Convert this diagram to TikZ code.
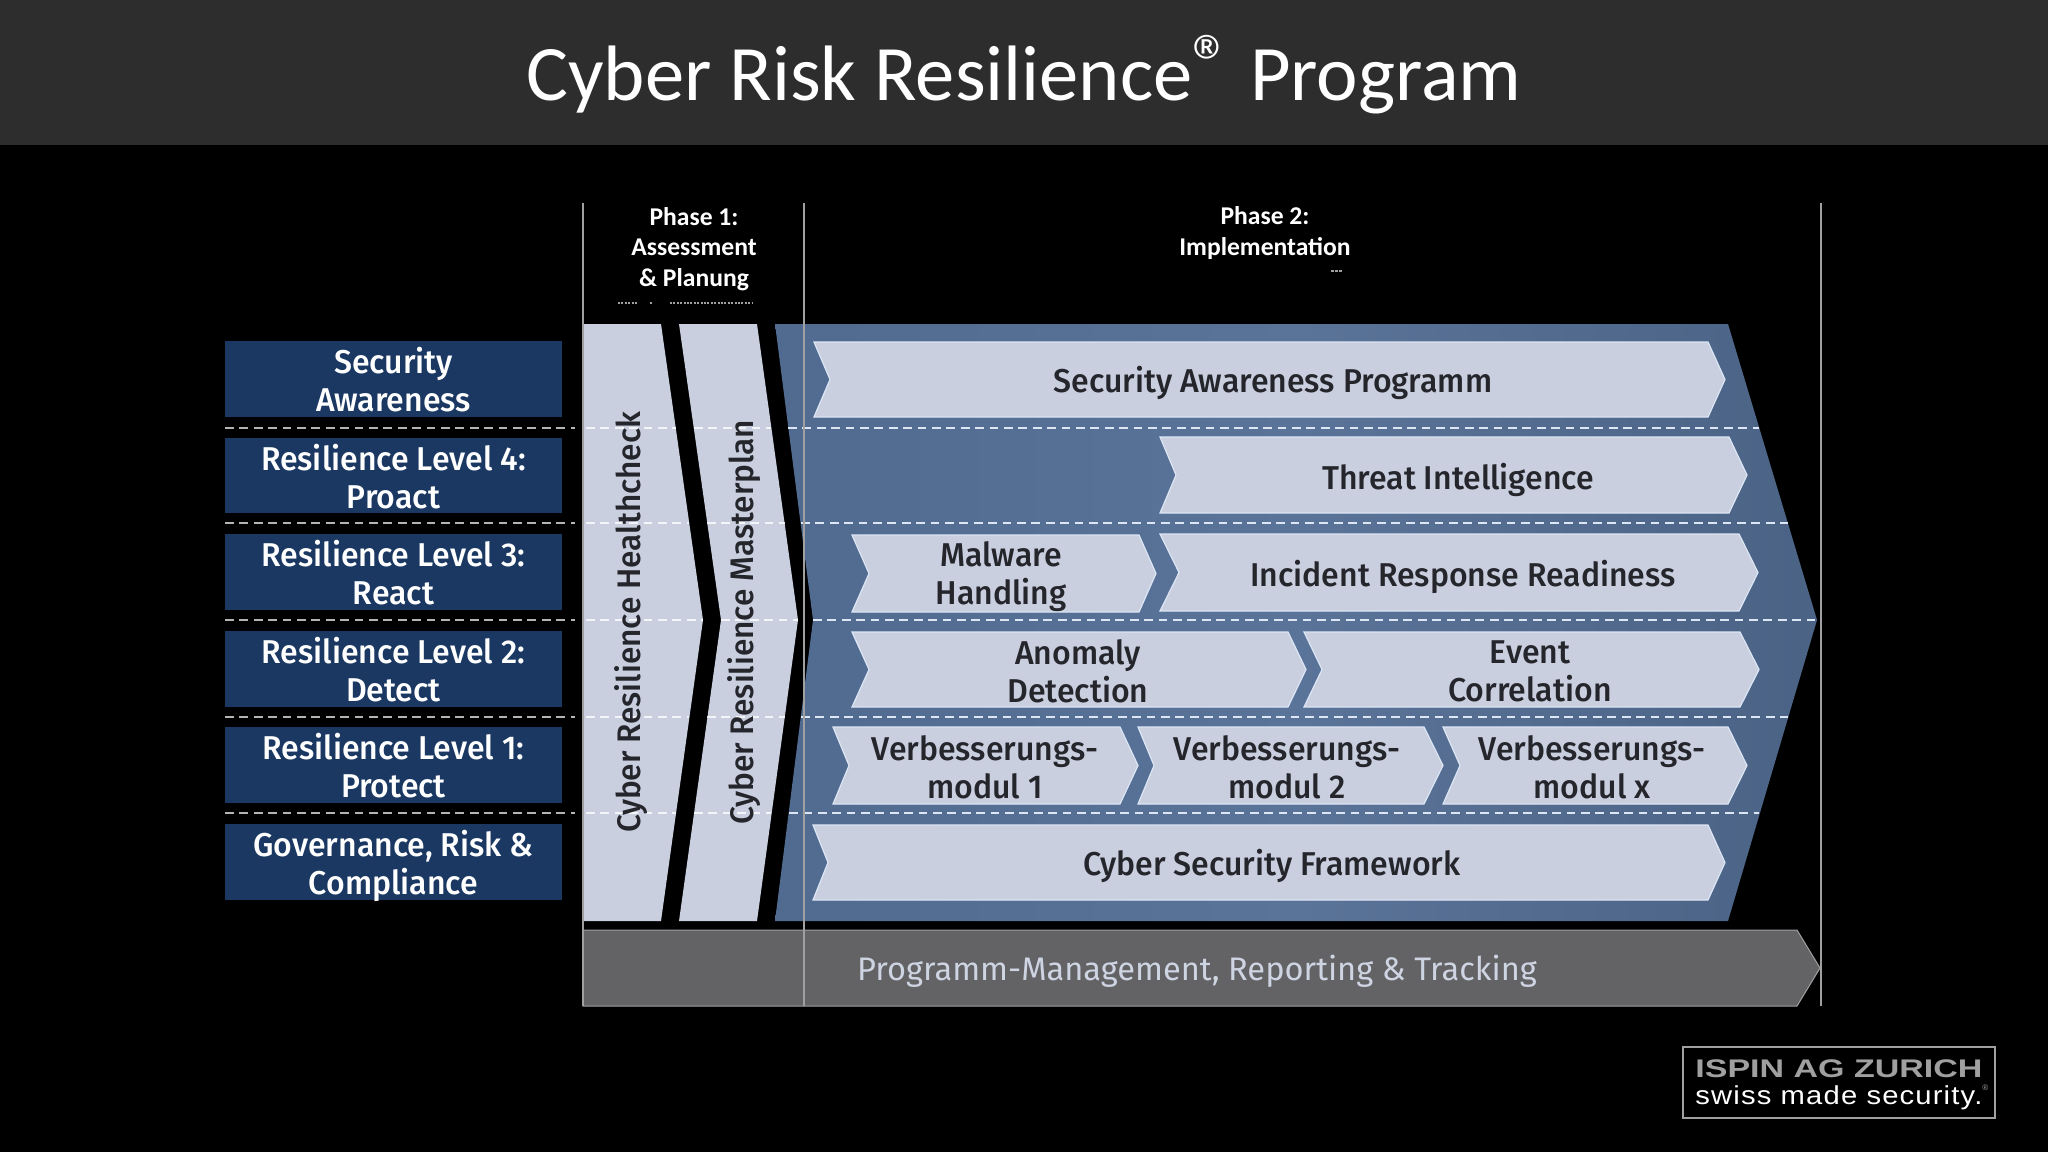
\documentclass[tikz,border=0pt]{standalone}
\usepackage{fontspec}
\usepackage{graphicx}
\setmainfont[FakeStretch=0.97]{Fira Sans Medium}
\newfontfamily\plainfont{Fira Sans}
\newfontfamily\headfont{Carlito}
\newfontfamily\logofont{Liberation Sans}
\newfontfamily\logospaced[LetterSpace=4]{Liberation Sans}
\definecolor{topbar}{HTML}{2D2D2D}
\definecolor{navy}{HTML}{1A3862}
\definecolor{steel}{HTML}{516B90}
\definecolor{steellight}{HTML}{5A7398}
\definecolor{pale}{HTML}{C9CFDF}
\definecolor{paleedge}{HTML}{DCE6F5}
\definecolor{ink}{HTML}{25252C}
\definecolor{bargray}{HTML}{636365}
\definecolor{rule}{HTML}{A0A0A0}
\definecolor{logogray}{HTML}{A0A0A0}
\definecolor{leftdash}{HTML}{B4B4B4}
\tikzset{
  x=0.5pt,y=-0.5pt,
  rowbox/.style={fill=navy,draw=none},
  rowtext/.style={text=white,font=\fontsize{16.5}{19}\selectfont,align=center,inner sep=0pt},
  chevshape/.style={fill=pale,draw=paleedge,line width=0.6pt,line join=miter},
  chevtext/.style={text=ink,font=\fontsize{16.5}{19}\selectfont,align=center,inner sep=0pt},
  phasetext/.style={text=white,font=\headfont\bfseries\fontsize{12.8}{15.4}\selectfont,align=center,inner sep=0pt},
  bandshape/.style={fill=pale,draw=none},
  bandtext/.style={text=ink,font=\fontsize{16.3}{19}\selectfont,rotate=90,inner sep=0pt},
  rowline/.style={draw=white,line width=1pt,dash pattern=on 4.4pt off 2.8pt},
  rowlinedark/.style={draw=leftdash,line width=1pt,dash pattern=on 4.4pt off 2.8pt},
  rowlineblue/.style={draw=paleedge,line width=1pt,dash pattern=on 4.4pt off 2.8pt},
  phaseline/.style={draw=rule,line width=1pt},
}
% \chev{name}{x left}{x right shoulder}{y top}{y bottom}{notch depth}{tip depth}{text}{text position}
\newcommand{\chev}[9]{%
  \fill[chevshape] (#2,#4) -- (#3,#4) -- ({#3+#7},{(#4+#5)/2}) -- (#3,#5) -- (#2,#5) -- ({#2+#6},{(#4+#5)/2}) -- cycle;
  \node[chevtext] (#1) at (#9) {#8};}
% \rowlabel{name}{y top}{y bottom}{y of text}{text}
\newcommand{\rowlabel}[5]{%
  \fill[rowbox] (225,#2) rectangle (562,#3);
  \node[rowtext] (#1) at (393.5,#4) {#5};}
\begin{document}
\begin{tikzpicture}
\useasboundingbox (0,0) rectangle (2048,1152);
\fill[black] (0,0) rectangle (2048,1152);
\fill[topbar] (0,0) rectangle (2048,145);
\node[text=white,font=\headfont\fontsize{39.3}{44}\selectfont,inner sep=0pt,anchor=base] (title) at (1024,100) {Cyber Risk Resilience\raisebox{0.14em}{®} Program};

% left labels
\rowlabel{sa}{341}{417}{380}{Security\\Awareness}
\rowlabel{l4}{437.5}{513}{476.5}{Resilience Level 4:\\Proact}
\rowlabel{l3}{534}{610}{573}{Resilience Level 3:\\React}
\rowlabel{l2}{631}{707}{670}{Resilience Level 2:\\Detect}
\rowlabel{l1}{727}{803}{766}{Resilience Level 1:\\Protect}
\rowlabel{grc}{824}{900}{866}{Governance, Risk \&\\Compliance}

% programme bar
\fill[bargray,draw=rule,line width=0.5pt] (583,930) -- (1797,930) -- (1820,968) -- (1797,1006) -- (583,1006) -- cycle;
\node[text=pale!90!white,font=\plainfont\fontsize{16.3}{19}\selectfont,inner sep=0pt] (pm) at (1197,971) {Programm-Management, Reporting \& Tracking};

% phase 1 bands
\fill[bandshape] (584,324) -- (661,324) -- (703,620) -- (661,921) -- (584,921) -- cycle;
\fill[bandshape] (679,324) -- (757,324) -- (798,620) -- (757,921) -- (679,921) -- (721,620) -- cycle;

% phase 2 block
\shade[left color=steel,right color=steel!92!black,middle color=steellight] (775,324) -- (1728,324) -- (1817,620) -- (1728,921) -- (775,921) -- (813,620) -- cycle;

% row separators: y / band 1 end / band 2 start / band 2 end / block start / block end
\foreach \yy/\ea/\sb/\eb/\sc/\ec in {427.5/676/694/771/788/1759, 523/689/707/785/801/1788, 619.5/703/721/798/813/1816, 717/689/707/785/801/1788, 813/676/694/771/789/1759}{
  \draw[rowlinedark] (225,\yy) -- (575,\yy);
  \draw[rowline,opacity=0.8] (586,\yy) -- (\ea,\yy);
  \draw[rowline,opacity=0.8] (\sb,\yy) -- (\eb,\yy);
  \draw[rowlineblue] (\sc,\yy) -- (\ec,\yy);
}

% phase 1 band labels
\node[bandtext] (hc) at (631,622) {Cyber Resilience Healthcheck};
\node[bandtext] (mp) at (744,622) {Cyber Resilience Masterplan};

% chevrons
\chev{c1}{814}{1708}{342}{417}{16}{17}{Security Awareness Programm}{1273,383}
\chev{c2}{1160}{1729}{437}{513}{16}{18}{Threat Intelligence}{1458,480}
\chev{c3a}{852}{1139}{535}{612}{17}{17}{Malware\\Handling}{1001,577}
\chev{c3b}{1160}{1739}{534}{611}{19}{19}{Incident Response Readiness}{1463,577}
\chev{c4a}{852}{1288}{632}{707}{17}{18}{Anomaly\\Detection}{1078,671}
\chev{c4b}{1304}{1740}{632}{707}{18}{19}{Event\\Correlation}{1530,671}
\chev{c5a}{833}{1120}{727}{804}{16}{18}{Verbesserungs-\\modul 1}{985,767}
\chev{c5b}{1138}{1424}{727}{804}{16}{19}{Verbesserungs-\\modul 2}{1287,767}
\chev{c5c}{1443}{1728}{727}{804}{17}{19}{Verbesserungs-\\modul x}{1592,767}
\chev{c6}{813}{1708}{825}{900}{15}{17}{Cyber Security Framework}{1272,866}

% phase rules
\coordinate (r1t) at (583,203); \coordinate (r1b) at (583,1006);
\coordinate (r2t) at (804,203); \coordinate (r2b) at (804,1006);
\coordinate (r3t) at (1821,203); \coordinate (r3b) at (1821,1006);
\draw[phaseline] (r1t) -- (r1b);
\draw[phaseline] (r2t) -- (r2b);
\draw[phaseline] (r3t) -- (r3b);

\node[phasetext] (ph1) at (694,249) {Phase 1:\\Assessment\\\& Planung};
\node[phasetext] (ph2) at (1265,233) {Phase 2:\\Implementation};

% faint scan marks under the phase titles
\draw[logogray,line width=0.9pt,dash pattern=on 1pt off 0.7pt] (618,303) -- (638,303);
\draw[logogray,line width=0.9pt,dash pattern=on 0.8pt off 1.6pt] (650,303) -- (654,303);
\draw[logogray,line width=0.9pt,dash pattern=on 1pt off 0.7pt] (670,303) -- (752,303);
\draw[logogray,line width=0.9pt,dash pattern=on 1.5pt off 0.5pt] (1331,271) -- (1343,271);

% logo
\node[draw=rule,line width=0.8pt,fill=black,minimum width=156pt,minimum height=35.5pt,inner sep=0pt] (logo) at (1839,1082.5) {};
\node[inner sep=0pt,text=logogray,anchor=base west] (logoa) at (1695,1077) {\resizebox{143.5pt}{8.9pt}{\logofont\bfseries ISPIN AG ZURICH}};
\node[inner sep=0pt,text=white,anchor=base west] (logob) at (1695,1104) {\resizebox{143.5pt}{9.4pt}{\logospaced swiss made security.}\rlap{\raisebox{6.6pt}{\textcolor{logogray}{\logofont\fontsize{4}{4}\selectfont ®}}}};
\end{tikzpicture}
\end{document}
